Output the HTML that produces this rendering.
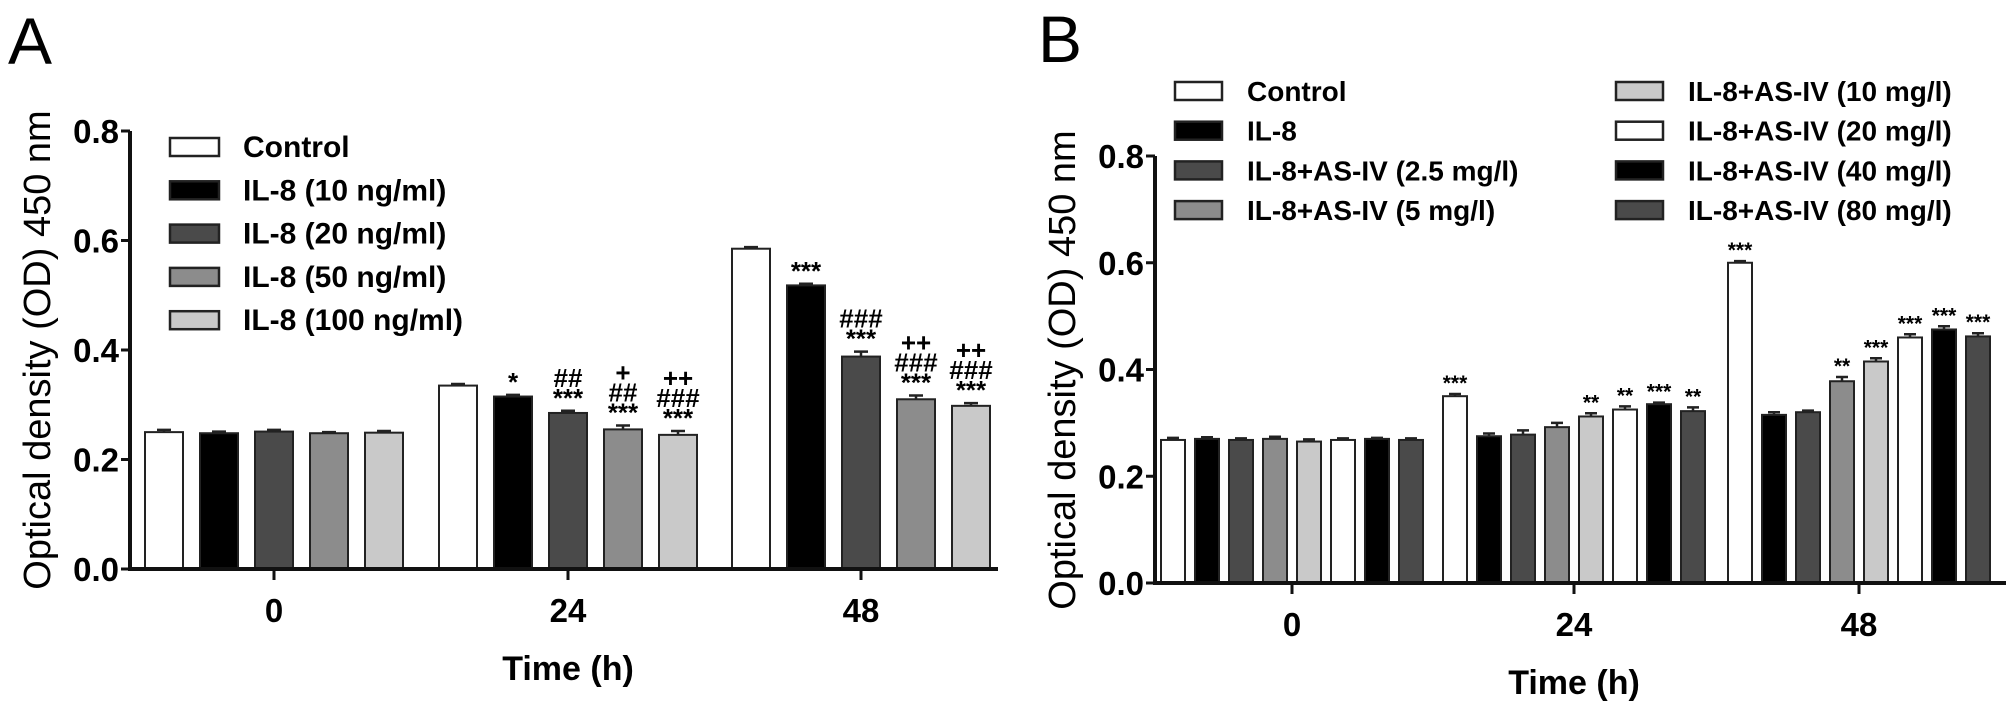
<!DOCTYPE html>
<html><head><meta charset="utf-8"><style>
html,body{margin:0;padding:0;background:#fff;}
svg{display:block;font-family:"Liberation Sans",Arial,sans-serif;}
</style></head><body>
<svg id="fig" width="2008" height="709" viewBox="0 0 2008 709" xmlns="http://www.w3.org/2000/svg">
<text x="8" y="64" font-size="66">A</text>
<text x="1038" y="62" font-size="66">B</text>
<g id="pa"></g>
<g id="pb"></g>
</svg>
<script>
const timeLabels = ["0","24","48"];
const yTicks = [0.0,0.2,0.4,0.6,0.8];
const yTickLabels = ["0.0","0.2","0.4","0.6","0.8"];
const seriesA = ["Control","IL-8 (10 ng/ml)","IL-8 (20 ng/ml)","IL-8 (50 ng/ml)","IL-8 (100 ng/ml)"];
const valuesA_0 = [0.250,0.248,0.251,0.248,0.249];
const valuesA_24 = [0.335,0.315,0.285,0.255,0.245];
const valuesA_48 = [0.585,0.518,0.388,0.310,0.298];
const errA_0 = [0.004,0.003,0.003,0.002,0.003];
const errA_24 = [0.003,0.003,0.004,0.007,0.007];
const errA_48 = [0.003,0.003,0.009,0.007,0.005];
const annA_24 = ["","*","##|***","+|##|***","++|###|***"];
const annA_48 = ["","***","###|***","++|###|***","++|###|***"];
const seriesB = ["Control","IL-8","IL-8+AS-IV (2.5 mg/l)","IL-8+AS-IV (5 mg/l)","IL-8+AS-IV (10 mg/l)","IL-8+AS-IV (20 mg/l)","IL-8+AS-IV (40 mg/l)","IL-8+AS-IV (80 mg/l)"];
const valuesB_0 = [0.268,0.270,0.268,0.270,0.265,0.268,0.270,0.268];
const valuesB_24 = [0.350,0.275,0.278,0.292,0.312,0.325,0.335,0.322];
const valuesB_48 = [0.600,0.315,0.320,0.378,0.415,0.460,0.475,0.462];
const errB_0 = [0.004,0.003,0.003,0.004,0.004,0.003,0.002,0.003];
const errB_24 = [0.004,0.005,0.008,0.008,0.006,0.006,0.003,0.007];
const errB_48 = [0.003,0.005,0.003,0.008,0.006,0.006,0.006,0.006];
const annB_24 = ["***","","","","**","**","***","**"];
const annB_48 = ["***","","","**","***","***","***","***"];

const NS="http://www.w3.org/2000/svg";
function mk(parent,tag,attrs,txt){const e=document.createElementNS(NS,tag);for(const k in attrs)e.setAttribute(k,attrs[k]);if(txt!==undefined)e.textContent=txt;parent.appendChild(e);return e;}

function drawPanel(g,cfg){
  const y=v=>cfg.y0-(v/0.8)*(cfg.y0-cfg.y8);
  const groups=[cfg.v0,cfg.v24,cfg.v48], errs=[cfg.e0,cfg.e24,cfg.e48], anns=[null,cfg.a24,cfg.a48];
  const n=cfg.series.length;
  groups.forEach((vals,gi)=>{
    const cx=cfg.gx[gi];
    vals.forEach((v,i)=>{
      const x=cx+(i-(n-1)/2)*cfg.pitch-cfg.bw/2;
      const r=mk(g,'rect',{x:x,y:y(v),width:cfg.bw,height:cfg.y0-y(v),fill:cfg.colors[i],stroke:'#222','stroke-width':cfg.sw});
      
      
      const ey=y(v+errs[gi][i]);
      const eb=mk(g,'path',{d:`M${x+cfg.bw/2} ${y(v)}V${ey}M${x+cfg.bw/2-cfg.cap} ${ey}H${x+cfg.bw/2+cfg.cap}`,stroke:'#222','stroke-width':2.5,fill:'none'});
      
      
      if(anns[gi]&&anns[gi][i]){
        const lines=anns[gi][i].split('|').reverse();
        lines.forEach((s,k)=>{
          const t=mk(g,'text',{x:x+cfg.bw/2,y:ey-4-k*cfg.annStep,'font-size':cfg.annSize,'font-weight':'bold','text-anchor':'middle'},s);
          
          
        });
      }
    });
  });
  const ax=mk(g,'path',{d:`M${cfg.x0} ${cfg.y8}V${cfg.y0}H${cfg.xEnd}`,stroke:'#111','stroke-width':4,fill:'none'});
  
  
  yTicks.forEach((v,i)=>{
    mk(g,'line',{x1:cfg.x0-9,x2:cfg.x0,y1:y(v),y2:y(v),stroke:'#111','stroke-width':3});
    const t=mk(g,'text',{x:cfg.x0-11,y:y(v)+12,'font-size':33,'font-weight':'bold','text-anchor':'end'},yTickLabels[i]);
    
    
  });
  cfg.gx.forEach((gx,i)=>{
    mk(g,'line',{x1:gx,x2:gx,y1:cfg.y0,y2:cfg.y0+11,stroke:'#111','stroke-width':3});
    const t=mk(g,'text',{x:gx,y:cfg.y0+53,'font-size':33,'font-weight':'bold','text-anchor':'middle'},timeLabels[i]);
    
    
  });
  const xt=mk(g,'text',{x:cfg.gx[1],y:cfg.xtY,'font-size':34,'font-weight':'bold','text-anchor':'middle'},'Time (h)');
  
  
  const yt=mk(g,'text',{x:0,y:0,'font-size':38,'text-anchor':'middle',transform:`translate(${cfg.ytX},${cfg.ytY}) rotate(-90)`},'Optical density (OD) 450 nm');
  
  
  cfg.series.forEach((s,i)=>{
    const col=Math.floor(i/cfg.perCol), row=i%cfg.perCol;
    const lx=cfg.legX[col], ly=cfg.legY+row*cfg.legStep;
    const le=mk(g,'g',{});
    
    
    mk(le,'rect',{x:lx,y:ly-9,width:cfg.swW,height:18,fill:cfg.colors[i],stroke:'#222','stroke-width':2.5});
    mk(le,'text',{x:lx+cfg.swW+cfg.txtGap,y:ly+10,'font-size':cfg.legSize,'font-weight':'bold'},s);
  });
}
const W='#ffffff',K='#000000',D='#4a4a4a',M='#8c8c8c',L='#c9c9c9';
drawPanel(document.getElementById('pa'),{
  series:seriesA,colors:[W,K,D,M,L],v0:valuesA_0,v24:valuesA_24,v48:valuesA_48,e0:errA_0,e24:errA_24,e48:errA_48,a24:annA_24,a48:annA_48,
  x0:130,xEnd:998,y0:569,y8:131,gx:[274,568,861],pitch:55,bw:38,sw:2,cap:7,annSize:26,annStep:20,
  xtY:680,ytX:50,ytY:350,legX:[170],legY:147,legStep:43.3,perCol:5,swW:49,txtGap:24,legSize:30
});
drawPanel(document.getElementById('pb'),{
  series:seriesB,colors:[W,K,D,M,L,W,K,D],v0:valuesB_0,v24:valuesB_24,v48:valuesB_48,e0:errB_0,e24:errB_24,e48:errB_48,a24:annB_24,a48:annB_48,
  x0:1155,xEnd:2006,y0:583,y8:156,gx:[1292,1574,1859],pitch:34,bw:24,sw:2,cap:6,annSize:21,annStep:16,
  xtY:694,ytX:1075,ytY:370,legX:[1175,1616],legY:91,legStep:39.7,perCol:4,swW:47,txtGap:25,legSize:28
});
</script>
</body></html>
